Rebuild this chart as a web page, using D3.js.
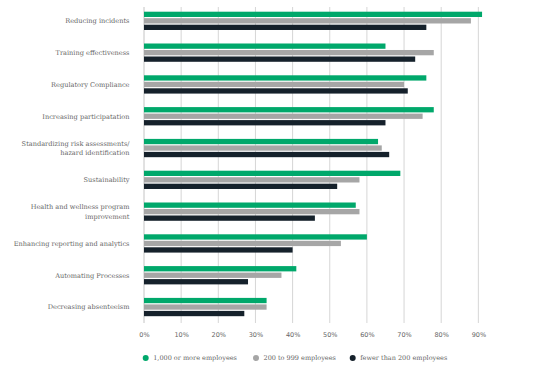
<!DOCTYPE html>
<html>
<head>
<meta charset="utf-8">
<script src="https://cdn.jsdelivr.net/npm/d3@7"></script>
<style>
  html, body { margin: 0; padding: 0; background: #fff; }
  svg { display: block; }
  text { font-family: "DejaVu Serif", serif; fill: #666; }
</style>
</head>
<body>
<svg id="chart" width="539" height="378"></svg>
<script>
const categories = [
  ["Reducing incidents"],
  ["Training effectiveness"],
  ["Regulatory Compliance"],
  ["Increasing participatation"],
  ["Standardizing risk assessments/", "hazard identification"],
  ["Sustainability"],
  ["Health and wellness program", "improvement"],
  ["Enhancing  reporting and analytics"],
  ["Automating Processes"],
  ["Decreasing absenteeism"]
];
const seriesNames = ["1,000 or more employees", "200 to 999 employees", "fewer than 200 employees"];
const large  = [91, 65, 76, 78, 63, 69, 57, 60, 41, 33];
const medium = [88, 78, 70, 75, 64, 58, 58, 53, 37, 33];
const small  = [76, 73, 71, 65, 66, 52, 46, 40, 28, 27];
const tickValues = [0, 10, 20, 30, 40, 50, 60, 70, 80, 90];
const colors = ["#00a86b", "#a6a6a6", "#15212b"];

const seriesValues = [large, medium, small];
const svg = d3.select("#chart");

const x = d3.scaleLinear().domain([0, 100]).range([144, 515.5]);
const keys = categories.map(c => c.join(" "));
const y = d3.scaleBand().domain(keys).range([4.94, 322.94])
  .paddingInner(0.425).paddingOuter(0.2125);
const ySub = d3.scaleBand().domain(d3.range(3)).range([0, y.bandwidth()])
  .paddingInner(0.185).paddingOuter(0);

// gridlines
const gridTop = 7, gridBottom = 323;
svg.append("g").selectAll("line").data(tickValues).join("line")
  .attr("x1", d => x(d)).attr("x2", d => x(d))
  .attr("y1", gridTop).attr("y2", gridBottom)
  .attr("stroke", d => d === 0 ? "#c4c4c4" : "#d6d6d6")
  .attr("stroke-width", 1);

// x axis labels
const xAxis = d3.axisBottom(x).tickValues(tickValues)
  .tickFormat(d => d + "%").tickSize(0).tickPadding(0);
const ax = svg.append("g").attr("transform", `translate(0,${332})`).call(xAxis);
ax.select(".domain").remove();
ax.selectAll("text").style("font-family", "DejaVu Sans, sans-serif")
  .style("font-size", "6.5px").attr("fill", "#666");

// bars
const groups = svg.append("g").selectAll("g").data(categories).join("g")
  .attr("transform", (d) => `translate(0,${y(d.join(" "))})`);
groups.each(function(c, i) {
  d3.select(this).selectAll("rect").data(seriesValues.map((s, k) => ({k, v: s[i]})))
    .join("rect")
    .attr("x", x(0))
    .attr("y", d => ySub(d.k))
    .attr("width", d => x(d.v) - x(0))
    .attr("height", ySub.bandwidth())
    .attr("fill", d => colors[d.k]);
});

// category labels
const lineH = 9.6;
groups.each(function(c) {
  const t = d3.select(this).append("text")
    .attr("text-anchor", "end")
    .attr("x", 129.5)
    .style("font-size", "6.6px");
  const mid = y.bandwidth() / 2;
  c.forEach((line, j) => {
    t.append("tspan").attr("x", 129.5)
      .attr("y", mid + (j - (c.length - 1) / 2) * lineH)
      .attr("dy", "0.35em")
      .text(line);
  });
});

// legend
const legendX = [145.7, 256, 352.7];
const legend = svg.append("g").selectAll("g").data(seriesNames).join("g")
  .attr("transform", (d, i) => `translate(${legendX[i]},358)`);
legend.append("circle").attr("r", 3).attr("fill", (d, i) => colors[i]);
legend.append("text").attr("x", 7.5).attr("dy", "0.35em")
  .style("font-size", "6.5px").text(d => d);
</script>
</body>
</html>
